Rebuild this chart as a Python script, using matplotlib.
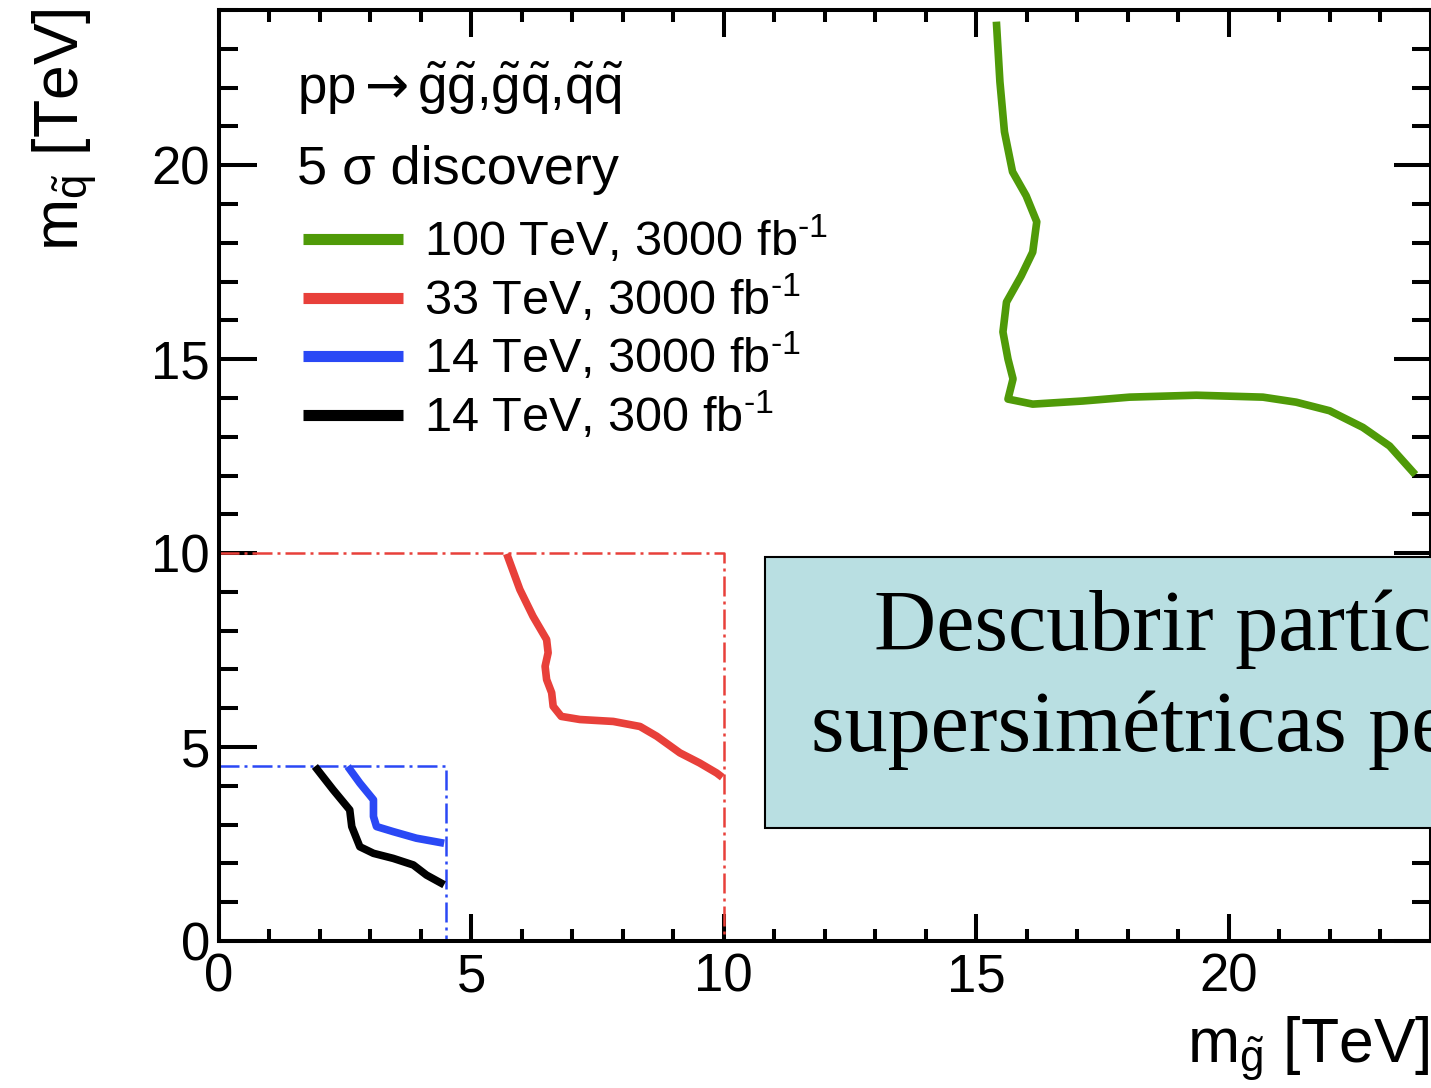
import matplotlib
matplotlib.use("Agg")
import matplotlib.pyplot as plt
from matplotlib.patches import Rectangle

plt.rcParams['font.family'] = ['Liberation Sans', 'DejaVu Sans']
plt.rcParams['mathtext.fontset'] = 'custom'
plt.rcParams['mathtext.rm'] = 'Liberation Sans'
plt.rcParams['mathtext.it'] = 'Liberation Sans'
plt.rcParams['mathtext.bf'] = 'Liberation Sans:bold'
plt.rcParams['mathtext.sf'] = 'DejaVu Sans'

# curvas de descubrimiento 5 sigma (m_gluino, m_squark) en TeV
g100_x = [15.40, 15.47, 15.56, 15.72, 15.99, 16.20, 16.12, 15.89, 15.60, 15.53, 15.63, 15.73, 15.63,
          16.12, 17.11, 18.04, 19.36, 20.68, 21.34, 22.00, 22.66, 23.19, 23.70]
g100_y = [23.70, 22.15, 20.86, 19.83, 19.21, 18.54, 17.76, 17.14, 16.47, 15.70, 15.00, 14.49, 13.97,
          13.84, 13.92, 14.02, 14.07, 14.02, 13.89, 13.67, 13.24, 12.76, 12.02]

r33_x = [5.70, 5.96, 6.22, 6.49, 6.52, 6.46, 6.49, 6.59, 6.62, 6.78, 7.15, 7.81, 8.34, 8.67, 9.13, 9.52, 9.86, 9.97]
r33_y = [9.98, 9.06, 8.37, 7.77, 7.43, 7.08, 6.74, 6.40, 6.05, 5.79, 5.71, 5.66, 5.53, 5.28, 4.85, 4.59, 4.33, 4.22]

b14_x = [2.55, 2.79, 3.06, 3.06, 3.12, 3.45, 3.91, 4.46]
b14_y = [4.50, 4.07, 3.64, 3.21, 2.95, 2.82, 2.65, 2.52]

k14_x = [1.90, 2.26, 2.59, 2.63, 2.79, 3.06, 3.45, 3.85, 4.11, 4.46]
k14_y = [4.50, 3.90, 3.38, 2.95, 2.43, 2.26, 2.13, 1.96, 1.70, 1.45]

# limites cinematicos (rectangulos punto-raya)
lim33_x = [0, 10, 10]
lim33_y = [10, 10, 0]
lim14_x = [0, 4.5, 4.5]
lim14_y = [4.5, 4.5, 0]

labels = ["100 TeV, 3000 fb$^{\\text{-1}}$", "33 TeV, 3000 fb$^{\\text{-1}}$",
          "14 TeV, 3000 fb$^{\\text{-1}}$", "14 TeV, 300 fb$^{\\text{-1}}$"]
colors = ['#4f9a08', '#e8403a', '#2a48f5', '#000000']

W, H = 1431, 1088
fig = plt.figure(figsize=(W / 100, H / 100), dpi=100)
ax = fig.add_axes([219 / W, 1 - 941 / H, (1430.5 - 219) / W, (941 - 10) / H])

ax.plot(lim33_x, lim33_y, color=colors[1], lw=1.8, ls=(0, (8, 2, 1.2, 2)))
ax.plot(lim14_x, lim14_y, color=colors[2], lw=1.8, ls=(0, (8, 2, 1.2, 2)))

curves = [(g100_x, g100_y), (r33_x, r33_y), (b14_x, b14_y), (k14_x, k14_y)]
for (cx, cy), c, lab in zip(curves, colors, labels):
    ax.plot(cx, cy, color=c, lw=5.5, label=lab, solid_capstyle='butt')

ax.set_xlim(0, 24)
ax.set_ylim(0, 24)
ax.set_xticks([0, 5, 10, 15, 20])
ax.set_yticks([0, 5, 10, 15, 20])
ax.set_xticks(range(0, 25), minor=True)
ax.set_yticks(range(0, 25), minor=True)
for s in ax.spines.values():
    s.set_linewidth(2.9)
ax.tick_params(which='both', direction='in', top=True, right=True, width=2.9, labelsize=38)
ax.tick_params(axis='x', which='major', length=19.5, pad=8)
ax.tick_params(axis='x', which='minor', length=8.8)
ax.tick_params(axis='y', which='major', length=27, pad=6.5)
ax.tick_params(axis='y', which='minor', length=14)

leg = ax.legend(loc='upper left', bbox_to_anchor=(0.0694, 0.7796), frameon=False, fontsize=35,
                handlelength=2.06, handletextpad=0.43, labelspacing=0.145, borderpad=0, borderaxespad=0)
for ln in leg.get_lines():
    ln.set_linewidth(8)

ax.text(0.0644, 0.899, r"pp$\mathsf{\rightarrow}$$\tilde{g}\tilde{g}$,$\tilde{g}\tilde{q}$,$\tilde{q}\tilde{q}$",
        transform=ax.transAxes, fontsize=38, va='baseline', ha='left')
ax.text(0.0644, 0.813, "5 σ discovery", transform=ax.transAxes, fontsize=39, va='baseline', ha='left')

fig.text(1430 / W, 1 - 1062 / H, r"m$_{\tilde{g}}$ [TeV]", fontsize=45, ha='right', va='baseline')
fig.text(78 / W, 1 - 8 / H, r"m$_{\tilde{q}}$ [TeV]", fontsize=45, ha='right', va='baseline',
         rotation=90, rotation_mode='anchor')

# recuadro de la diapositiva
box = Rectangle((765 / W, 1 - 828 / H), 1.0, (828 - 557) / H, transform=fig.transFigure,
                facecolor='#b9dfe2', edgecolor='black', lw=1.5, zorder=10)
fig.patches.append(box)
fig.text(874 / W, 1 - 650 / H, "Descubrir partículas", family='Liberation Serif', fontsize=62,
         ha='left', va='baseline', zorder=11)
fig.text(811 / W, 1 - 751 / H, "supersimétricas pesadas", family='Liberation Serif', fontsize=62,
         ha='left', va='baseline', zorder=11)

fig.savefig("out.png", dpi=100)
